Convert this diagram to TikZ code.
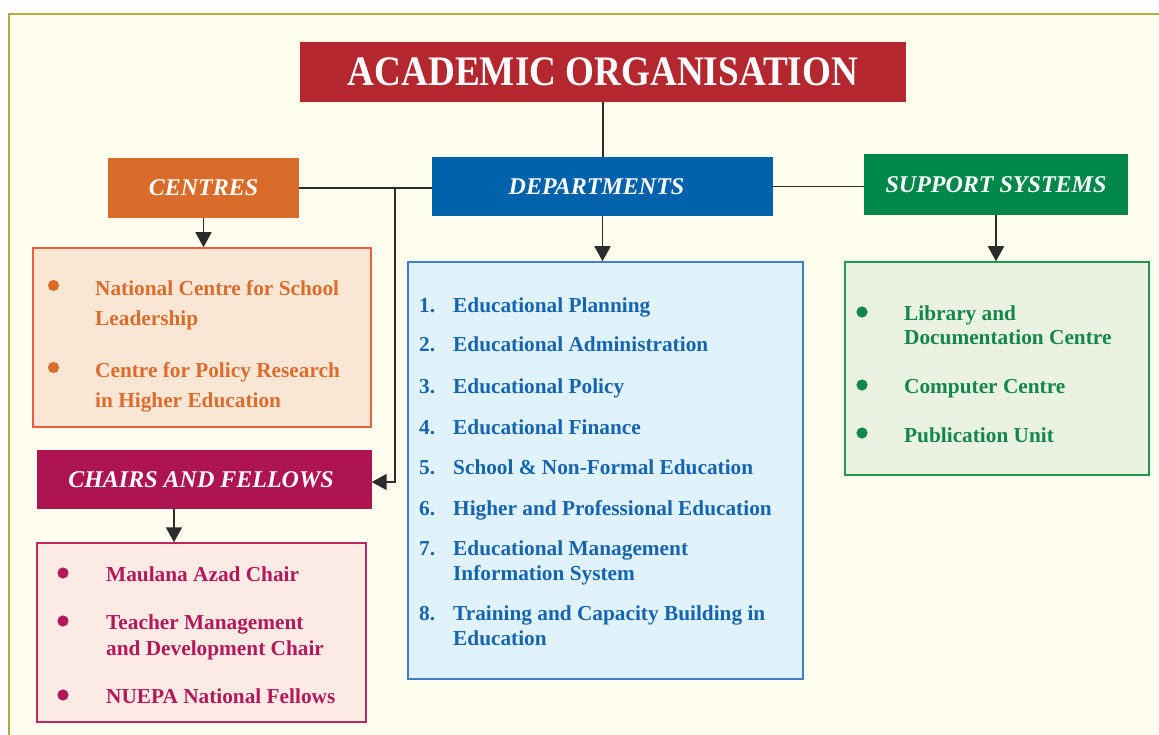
\documentclass[tikz,border=0pt]{standalone}
\usepackage{fontspec}
\setmainfont{Liberation Serif}
\usepackage{graphicx}
\usetikzlibrary{arrows.meta,calc}

\definecolor{pagebg}{HTML}{FFFDEE}
\definecolor{pageedge}{HTML}{B2AC3F}
\definecolor{titlered}{HTML}{B5272E}
\definecolor{centreorange}{HTML}{D96C2B}
\definecolor{deptblue}{HTML}{0062AB}
\definecolor{supportgreen}{HTML}{00884A}
\definecolor{chairmagenta}{HTML}{AF1452}
\definecolor{centrefill}{HTML}{FAE6D5}
\definecolor{centreedge}{HTML}{E8603A}
\definecolor{centretext}{HTML}{DB6C2C}
\definecolor{deptfill}{HTML}{E0F2FB}
\definecolor{deptedge}{HTML}{3F7FC8}
\definecolor{depttext}{HTML}{1565AE}
\definecolor{supportfill}{HTML}{EAF3E1}
\definecolor{supportedge}{HTML}{1E9950}
\definecolor{supporttext}{HTML}{13874A}
\definecolor{chairfill}{HTML}{FCEAE4}
\definecolor{chairedge}{HTML}{C02760}
\definecolor{chairtext}{HTML}{B3185A}
\definecolor{linkgray}{HTML}{2B2B2B}

\begin{document}
\begin{tikzpicture}[x=1pt,y=-1pt,
  titlebox/.style={fill=titlered, text=white, inner sep=0pt,
    minimum width=606pt, minimum height=60pt,
    font=\bfseries\fontsize{42}{42}\selectfont},
  headbox/.style={inner sep=0pt, text=white,
    font=\bfseries\itshape\fontsize{24}{24}\selectfont},
  listbox/.style={inner sep=0pt, line width=1.5pt},
  item/.style={anchor=base west, inner sep=0pt,
    font=\bfseries\fontsize{21.3}{25}\selectfont},
  link/.style={draw=linkgray, line width=1.8pt},
  arrowlink/.style={link, -{Triangle[width=16pt,length=15pt]}},
  dot/.style={radius=5.6pt}
]
\useasboundingbox (0,0) rectangle (1159,735);
\clip (0,0) rectangle (1159,735);

% page frame
\draw[fill=pagebg, draw=pageedge, line width=1.6pt] (9,14) rectangle (1180,760);

% heading boxes
\node[titlebox] (title) at (603,72) {\scalebox{0.885}[1]{ACADEMIC ORGANISATION}};
\node[headbox, fill=centreorange, minimum width=191pt, minimum height=60pt] (centres) at (203.5,188) {CENTRES};
\node[headbox, fill=deptblue, minimum width=341pt, minimum height=59pt] (dept) at (602.5,186.5) {\hspace*{-12pt}\raisebox{-1pt}{DEPARTMENTS}};
\node[headbox, fill=supportgreen, minimum width=264pt, minimum height=61pt] (support) at (996,184.5) {\raisebox{-3pt}{SUPPORT SYSTEMS}};
\node[headbox, fill=chairmagenta, minimum width=335pt, minimum height=59pt] (chairs) at (204,479.5) {\hspace*{-6pt}\raisebox{-2pt}{CHAIRS AND FELLOWS}};

% list boxes
\node[listbox, fill=centrefill, draw=centreedge, minimum width=338pt, minimum height=179pt] (clist) at (202,337.5) {};
\node[listbox, fill=deptfill, draw=deptedge, minimum width=395pt, minimum height=417pt] (dlist) at (605.5,470.5) {};
\node[listbox, fill=supportfill, draw=supportedge, minimum width=304pt, minimum height=213pt] (slist) at (997,368.5) {};
\node[listbox, fill=chairfill, draw=chairedge, minimum width=329pt, minimum height=179pt] (hlist) at (201.5,632.5) {};

% connectors
\draw[link] (title.south) -- (title.south |- dept.north);
\draw[link] (centres.east) -- (centres.east -| dept.west);
\draw[link, line width=1.4pt] (dept.east) -- (dept.east -| support.west);
\coordinate (branch) at (395,188);
\coordinate (chairin) at ($(chairs.east)+(0,2.5)$);
\draw[arrowlink] (branch) |- (chairin);
\draw[arrowlink] (centres.south) -- (centres.south |- clist.north);
\draw[arrowlink] (dept.south) -- (dept.south |- dlist.north);
\draw[arrowlink] (support.south) -- (support.south |- slist.north);
\coordinate (chairdrop) at ($(chairs.south)+(-30,0)$);
\draw[arrowlink] (chairdrop) -- (chairdrop |- hlist.north);

% centres
\fill[centretext] (53.5,285.5) circle[dot];
\fill[centretext] (53.5,367.5) circle[dot];
\node[item, text=centretext] (c1a) at (95,295) {National Centre for School};
\node[item, text=centretext] (c1b) at (95,325) {Leadership};
\node[item, text=centretext] (c2a) at (95,377) {Centre for Policy Research};
\node[item, text=centretext] (c2b) at (95,407) {in Higher Education};

% departments
\foreach \n/\y/\t in {1/312.7/Educational Planning,
                      2/351.7/Educational Administration,
                      3/393/Educational Policy,
                      4/434/Educational Finance,
                      5/474/School \& Non-Formal Education,
                      6/515/Higher and Professional Education,
                      7/555/Educational Management,
                      8/620/Training and Capacity Building in} {
  \node[item, text=depttext] (dn\n) at (419,\y) {\n.};
  \node[item, text=depttext] (dt\n) at (453,\y) {\t};
}
\node[item, text=depttext] (dt7b) at (453,580) {Information System};
\node[item, text=depttext] (dt8b) at (453,645) {Education};

% support systems
\fill[supporttext] (862,312) circle[dot];
\fill[supporttext] (862,385) circle[dot];
\fill[supporttext] (862,433) circle[dot];
\node[item, text=supporttext] (s1a) at (904,320) {Library and};
\node[item, text=supporttext] (s1b) at (904,344) {Documentation Centre};
\node[item, text=supporttext] (s2) at (904,393) {Computer Centre};
\node[item, text=supporttext] (s3) at (904,442) {Publication Unit};

% chairs and fellows
\fill[chairtext] (63,573) circle[dot];
\fill[chairtext] (63,621) circle[dot];
\fill[chairtext] (63,695) circle[dot];
\node[item, text=chairtext] (h1) at (106,581.7) {Maulana Azad Chair};
\node[item, text=chairtext] (h2a) at (106,629) {Teacher Management};
\node[item, text=chairtext] (h2b) at (106,655) {and Development Chair};
\node[item, text=chairtext] (h3) at (106,703) {NUEPA National Fellows};
\end{tikzpicture}
\end{document}
